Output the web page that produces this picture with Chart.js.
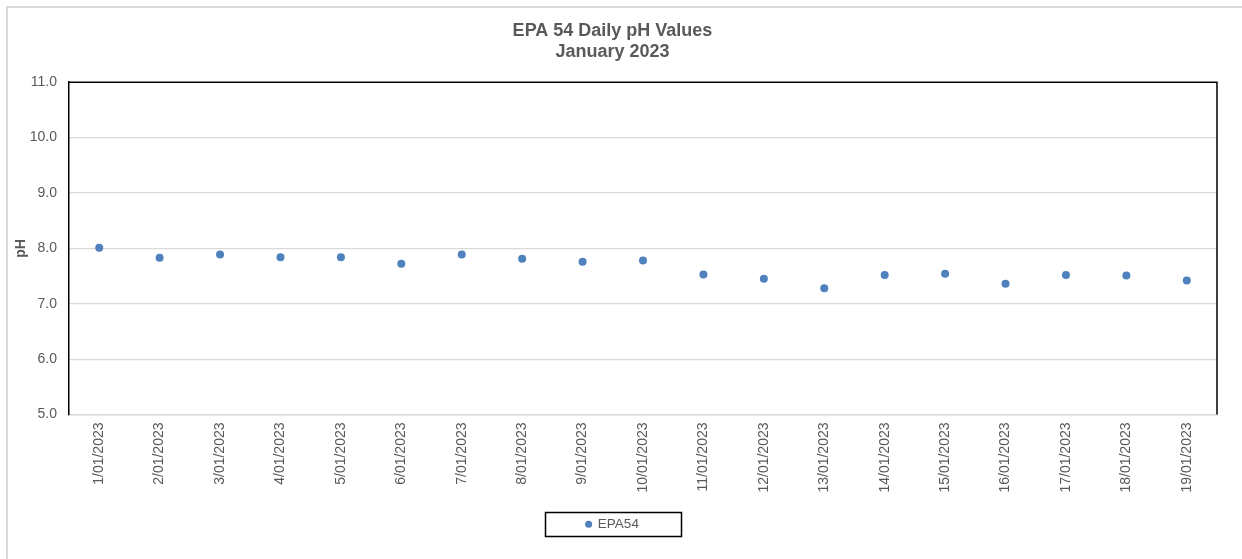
<!DOCTYPE html>
<html>
<head>
<meta charset="utf-8">
<script src="https://cdn.jsdelivr.net/npm/chart.js@4/dist/chart.umd.min.js"></script>
<style>
  html, body { margin: 0; padding: 0; background: #fff; }
  #wrap { position: relative; width: 1242px; height: 559px; }
  #frame { position: absolute; left: 6px; top: 6px; right: 0; bottom: 0; border-left: 2px solid #d9d9d9; border-top: 2px solid #d9d9d9; pointer-events: none; }
</style>
</head>
<body>
<div id="wrap">
  <canvas id="phChart" width="1242" height="559"></canvas>
  <div id="frame"></div>
</div>
<script>
  // dados
  var dates = ['1/01/2023', '2/01/2023', '3/01/2023', '4/01/2023', '5/01/2023', '6/01/2023', '7/01/2023',
    '8/01/2023', '9/01/2023', '10/01/2023', '11/01/2023', '12/01/2023', '13/01/2023', '14/01/2023',
    '15/01/2023', '16/01/2023', '17/01/2023', '18/01/2023', '19/01/2023'];
  var epa54 = [8.01, 7.83, 7.89, 7.84, 7.84, 7.72, 7.89, 7.81, 7.76, 7.78, 7.53, 7.45, 7.28, 7.52, 7.54, 7.36, 7.52, 7.51, 7.42];
  var titleLines = ['EPA 54 Daily pH Values', 'January 2023'];
  var yTitle = 'pH';

  var grey = '#595959';
  Chart.defaults.font.family = '"Liberation Sans", Arial, sans-serif';

  // borda preta em cima e à direita + caixa da legenda
  var framePlugin = {
    id: 'framePlugin',
    afterDraw: function(chart) {
      var c = chart.ctx, a = chart.chartArea;
      c.save();
      c.strokeStyle = '#000';
      c.lineWidth = 1.5;
      c.beginPath();
      c.moveTo(a.left, a.top);
      c.lineTo(a.right, a.top);
      c.lineTo(a.right, a.bottom);
      c.stroke();
      var hb = chart.legend.legendHitBoxes[0];
      if (hb) {
        var cx = hb.left + hb.width / 2, cy = hb.top + hb.height / 2;
        c.strokeRect(Math.round(cx - 68) + 0.5, Math.round(cy - 12) + 0.5, 136, 24);
      }
      c.restore();
    }
  };

  var ctx = document.getElementById('phChart').getContext('2d');
  var phChart = new Chart(ctx, {
    type: 'line',
    data: {
      labels: dates,
      datasets: [{
        label: 'EPA54',
        data: epa54,
        showLine: false,
        pointRadius: 4,
        pointHoverRadius: 4,
        pointBackgroundColor: '#4f81bd',
        pointBorderColor: '#4f81bd',
        pointBorderWidth: 0,
        backgroundColor: '#4f81bd',
        borderColor: '#4f81bd'
      }]
    },
    options: {
      responsive: false,
      animation: false,
      layout: { padding: { left: 8, right: 25, top: 20, bottom: 18 } },
      plugins: {
        title: {
          display: true,
          text: titleLines,
          color: grey,
          font: { size: 18, weight: 'bold' },
          padding: { top: 0, bottom: 19 }
        },
        legend: {
          position: 'bottom',
          labels: {
            usePointStyle: true,
            pointStyle: 'circle',
            boxWidth: 5,
            boxHeight: 5,
            color: grey,
            font: { size: 13.5 },
            padding: 10
          }
        },
        tooltip: { enabled: false }
      },
      scales: {
        x: {
          offset: true,
          grid: { display: false, drawTicks: false },
          border: { color: '#d9d9d9', width: 1.5 },
          ticks: { color: grey, font: { size: 14 }, minRotation: 90, maxRotation: 90, padding: 8, autoSkip: false },
          afterFit: function(scale) { scale.height = 93; }
        },
        y: {
          min: 5,
          max: 11,
          grid: { color: '#d9d9d9', lineWidth: 1.2, drawTicks: false },
          border: { color: '#000', width: 1.5 },
          ticks: {
            stepSize: 1,
            color: grey,
            font: { size: 14 },
            padding: 12,
            callback: function(v) { return Number(v).toFixed(1); }
          },
          title: { display: true, text: yTitle, color: grey, font: { size: 14, weight: 'bold' }, padding: { top: 5, bottom: 0 } },
          afterFit: function(scale) { scale.width = 61; }
        }
      }
    },
    plugins: [framePlugin]
  });
</script>
</body>
</html>
